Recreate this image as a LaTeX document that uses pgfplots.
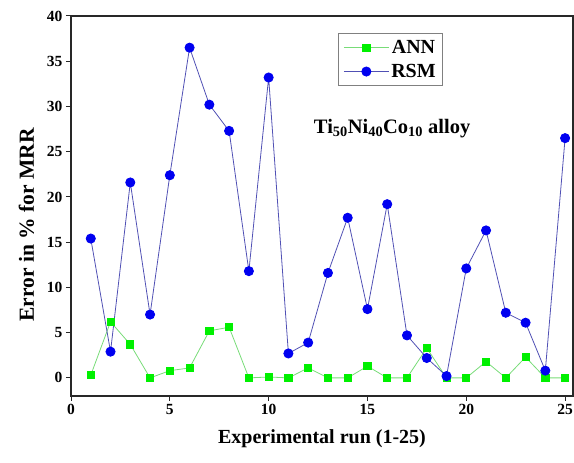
\documentclass[border=0pt]{standalone}
\usepackage{fontspec}
\setmainfont{Liberation Serif}
\usepackage{pgfplots}
\pgfplotsset{compat=1.18}
\usetikzlibrary{calc}
\definecolor{annline}{RGB}{120,220,120}
\definecolor{annmark}{RGB}{0,240,0}
\definecolor{rsmline}{RGB}{80,80,180}
\definecolor{rsmmark}{RGB}{0,0,240}
\definecolor{axisgray}{RGB}{40,40,40}

\pgfplotstableread{
x ann rsm
1 0.3 15.4
2 6.2 2.9
3 3.7 21.6
4 0.0 7.0
5 0.8 22.4
6 1.1 36.5
7 5.2 30.2
8 5.6 27.3
9 0.0 11.8
10 0.1 33.2
11 0.0 2.7
12 1.1 3.9
13 0.0 11.6
14 0.0 17.7
15 1.3 7.6
16 0.0 19.2
17 0.0 4.7
18 3.3 2.2
19 0.0 0.2
20 0.0 12.1
21 1.8 16.3
22 0.0 7.2
23 2.3 6.1
24 0.0 0.8
25 0.0 26.5
}\errdata

\begin{document}
\begin{tikzpicture}
\begin{axis}[
  scale only axis, width=502bp, height=380bp,
  xmin=0, xmax=25.4, ymin=-2, ymax=40,
  xtick={0,5,10,15,20,25}, ytick={0,5,...,40},
  tick align=outside, xtick pos=bottom, ytick pos=left,
  major tick length=5bp,
  axis line style={axisgray, line width=1.3pt},
  every tick/.style={axisgray, line width=1pt},
  ticklabel style={font=\fontsize{15.5bp}{18bp}\selectfont\bfseries},
  /pgf/number format/assume math mode=true,
  xlabel={\fontsize{20bp}{22bp}\selectfont\bfseries Experimental run (1-25)},
  ylabel={\fontsize{21.5bp}{24bp}\selectfont\bfseries Error in \% for MRR},
  xlabel style={yshift=-8bp},
  ylabel style={at={(ticklabel cs:0.45)}, yshift=6bp},
  legend style={at={(0.532,0.955)}, anchor=north west, draw=gray, line width=0.8pt,
    font=\fontsize{20bp}{22bp}\selectfont\bfseries, inner xsep=5bp, inner ysep=5bp,
    row sep=5bp},
  legend image code/.code={\draw[#1] (0bp,0bp) -- (45bp,0bp); \draw[#1, only marks] plot coordinates {(22.5bp,0bp)};},
]
\addplot[annline, line width=0.8pt, mark=square*, mark size=3.6bp,
  mark options={annmark, draw=annmark, fill=annmark}] table[x=x,y=ann]{\errdata};
\addlegendentry{ANN}
\addplot[rsmline, line width=0.8pt, mark=*, mark size=4.6bp,
  mark options={rsmmark, draw=rsmmark, fill=rsmmark}] table[x=x,y=rsm]{\errdata};
\addlegendentry{RSM}
\node[font=\fontsize{20.5bp}{22bp}\selectfont\bfseries] at (axis cs:16.25,27.6)
  {Ti\textsubscript{50}Ni\textsubscript{40}Co\textsubscript{10} alloy};
\draw[axisgray, line width=1.3pt] (rel axis cs:1,0) -- (rel axis cs:1,1);
\end{axis}
\pgfresetboundingbox
\path[use as bounding box] ($(current axis.south west)+(-71bp,-67bp)$) rectangle ($(current axis.north east)+(1bp,16bp)$);
\end{tikzpicture}
\end{document}
